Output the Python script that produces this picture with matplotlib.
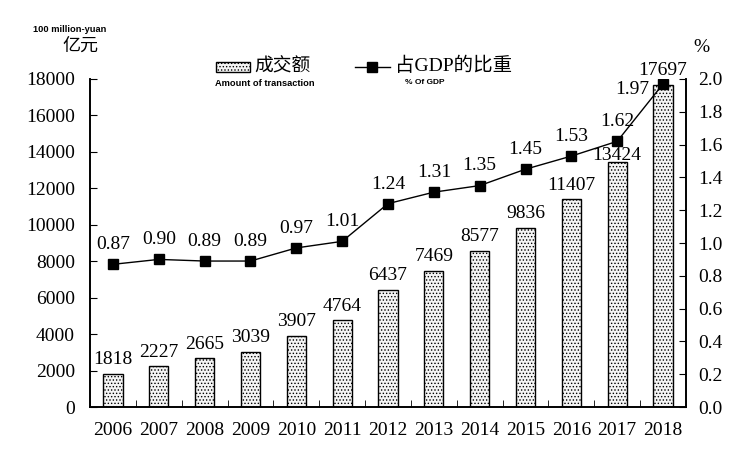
import numpy as np
import matplotlib.pyplot as plt
from matplotlib import rcParams

rcParams['font.family'] = ['Liberation Serif', 'Noto Sans CJK SC']
rcParams['hatch.linewidth'] = 0.6
rcParams['hatch.color'] = '#555555'

# data
years = ['2006', '2007', '2008', '2009', '2010', '2011', '2012',
         '2013', '2014', '2015', '2016', '2017', '2018']
amount = [1818, 2227, 2665, 3039, 3907, 4764, 6437,
          7469, 8577, 9836, 11407, 13424, 17697]
share = [0.87, 0.90, 0.89, 0.89, 0.97, 1.01, 1.24,
         1.31, 1.35, 1.45, 1.53, 1.62, 1.97]

x = np.arange(len(years))
fs = 14

fig = plt.figure(figsize=(7.38, 4.54), dpi=100)
ax = fig.add_axes([0.122, 0.1035, 0.8075, 0.7225])
ax2 = ax.twinx()

# bars
ax.bar(x, amount, width=0.42, color='#f4f4f4', edgecolor='black',
       linewidth=1.0, hatch='.....', zorder=2)
ax.set_ylim(0, 18000)
ax.set_xlim(-0.5, 12.5)
ax.set_yticks(np.arange(0, 18001, 2000))
ax.set_xticks(x)
ax.set_xticklabels(years)
ax.set_xticks(np.arange(-0.5, 12.6, 1), minor=True)
ax.tick_params(axis='x', which='major', length=0, pad=11, labelsize=fs)
ax.tick_params(axis='x', which='minor', direction='in', length=5)
ax.tick_params(axis='y', direction='in', length=5, labelsize=fs, pad=11)

for i, v in enumerate(amount):
    off = -1 if i == 11 else 4
    ax.annotate(str(v), (x[i], v), xytext=(0, off), textcoords='offset points',
                ha='center', va='bottom', fontsize=fs)

# line
ax2.plot(x, share, color='black', lw=1.0, marker='s', ms=7,
         mfc='black', mec='black', zorder=3)
ax2.set_ylim(0, 2.0)
ax2.set_yticks(np.arange(0, 2.01, 0.2))
ax2.set_yticklabels(['%.1f' % t for t in np.arange(0, 2.01, 0.2)])
ax2.tick_params(axis='y', direction='in', length=5, labelsize=fs, pad=9)

for i, v in enumerate(share):
    if i == 12:
        ax2.annotate('%.2f' % v, (x[i], v), xytext=(-10, -4),
                     textcoords='offset points', ha='right', va='center',
                     fontsize=fs)
    else:
        ax2.annotate('%.2f' % v, (x[i], v), xytext=(0, 8),
                     textcoords='offset points', ha='center', va='bottom',
                     fontsize=fs)

for a in (ax, ax2):
    a.spines['top'].set_visible(False)
    for s in a.spines.values():
        s.set_linewidth(1.2)

# unit labels
fig.text(33/738, 1 - 30/454, '100 million-yuan', family='Liberation Sans',
         fontweight='bold', fontsize=6.7, ha='left', va='center')
fig.text(80/738, 1 - 46/454, '亿元', family='Noto Sans CJK SC',
         fontsize=13, ha='center', va='center')
fig.text(701/738, 1 - 47/454, '%', fontsize=fs, ha='center', va='center')

# legend (drawn by hand to mimic the bilingual labels)
lax = fig.add_axes([0, 0, 1, 1], facecolor='none')
lax.set_xlim(0, 738)
lax.set_ylim(454, 0)
lax.axis('off')
lax.add_patch(plt.Rectangle((216, 62), 34, 10, facecolor='#f4f4f4',
                            edgecolor='black', lw=1.0, hatch='.....'))
lax.text(254, 66, '成交额', family='Noto Sans CJK SC', fontsize=13.5,
         ha='left', va='center')
lax.text(215, 83, 'Amount of transaction', family='Liberation Sans',
         fontweight='bold', fontsize=6.7, ha='left', va='center')
lax.plot([355, 390], [67, 67], color='black', lw=1.0)
lax.plot([372], [67], marker='s', ms=7, color='black')
lax.text(395, 66, '占GDP的比重', family=['Liberation Serif', 'Noto Sans CJK SC'],
         fontsize=fs, ha='left', va='center')
lax.text(405, 83, '% Of GDP', family='Liberation Sans',
         fontweight='bold', fontsize=6, ha='left', va='center')

fig.savefig('out.png', dpi=100)
